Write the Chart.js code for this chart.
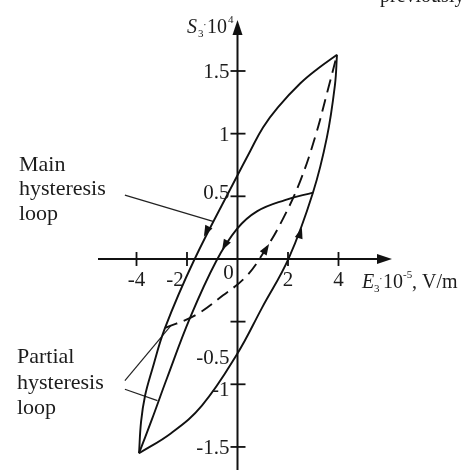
<!DOCTYPE html>
<html>
<head>
<meta charset="utf-8">
<script src="https://cdn.jsdelivr.net/npm/chart.js@4/dist/chart.umd.min.js"></script>
<style>
  body { margin: 0; background: #fff; }
  #wrap { width: 468px; height: 470px; }
</style>
</head>
<body>
<div id="wrap"><canvas id="loopChart" width="468" height="470"></canvas></div>
<script>
// field E3 (x 10^5 V/m) and strain S3 (x 10^-4) along each branch
var mainDownE = [3.94, 3.19, 2.48, 1.60, 1.01, 0.50, -0.02, -1.72, -2.87, -3.39, -3.66, -3.82, -3.90];
var mainDownS = [1.63, 1.52, 1.40, 1.21, 1.05, 0.86, 0.66, -0.01, -0.55, -0.89, -1.09, -1.30, -1.55];

var mainUpE = [-3.90, -2.63, -1.41, -0.02, 0.97, 2.04, 2.99, 3.54, 3.86, 3.94];
var mainUpS = [-1.55, -1.39, -1.17, -0.76, -0.39, 0.01, 0.53, 0.97, 1.39, 1.63];

var partialDownE = [2.99, 1.88, 0.77, -0.02, -0.85, -1.88, -2.79, -3.39, -3.90];
var partialDownS = [0.53, 0.47, 0.38, 0.24, -0.02, -0.47, -0.95, -1.28, -1.55];

var minorUpE = [-2.87, -1.68, -0.57, 0.34, 1.09, 1.80, 2.48, 3.07, 3.58, 3.94];
var minorUpS = [-0.55, -0.45, -0.29, -0.14, 0.07, 0.32, 0.62, 0.97, 1.35, 1.63];

// direction arrows: [tipE, tipS, tailE, tailS]
var arrowMarks = [
    [-1.33, 0.18, -1.13, 0.26],
    [-0.61, 0.07, -0.42, 0.14],
    [2.55, 0.25, 2.40, 0.15],
    [1.25, 0.12, 0.97, 0.03]
];

// leader lines from the captions: [fromE, fromS, toE, toS]
var leaderLines = [
    [-4.46, 0.51, -0.97, 0.30],
    [-4.46, -0.97, -2.63, -0.53],
    [-4.46, -1.04, -3.17, -1.13]
];

var eTicks = [-4, -2, 2, 4];
var eTickLabels = ['-4', '-2', '2', '4'];
var sTicks = [1.5, 1, 0.5, -0.5, -1, -1.5];
var sTickLabels = ['1.5', '1', '0.5', '-0.5', '-1', '-1.5'];

function toPoints(xs, ys) {
    return xs.map(function (x, i) { return { x: x, y: ys[i] }; });
}

var curveStyle = {
    showLine: true,
    borderColor: '#111',
    borderWidth: 1.9,
    pointRadius: 0,
    tension: 0.4,
    fill: false
};

var datasets = [
    Object.assign({ label: 'main down', data: toPoints(mainDownE, mainDownS) }, curveStyle),
    Object.assign({ label: 'main up', data: toPoints(mainUpE, mainUpS) }, curveStyle),
    Object.assign({ label: 'partial down', data: toPoints(partialDownE, partialDownS) }, curveStyle),
    Object.assign({ label: 'minor up', data: toPoints(minorUpE, minorUpS), borderDash: [13, 7] }, curveStyle)
];

leaderLines.forEach(function (l, i) {
    datasets.push({
        label: 'leader ' + i,
        data: [{ x: l[0], y: l[1] }, { x: l[2], y: l[3] }],
        showLine: true,
        borderColor: '#222',
        borderWidth: 1.2,
        pointRadius: 0,
        tension: 0
    });
});

var serif = '"Liberation Serif", "DejaVu Serif", serif';

// axes through the origin, tick marks, arrows and captions
var crossAxes = {
    id: 'crossAxes',
    afterDatasetsDraw: function (chart) {
        var ctx = chart.ctx;
        var xs = chart.scales.x, ys = chart.scales.y;
        var x0 = xs.getPixelForValue(0);
        var y0 = ys.getPixelForValue(0);

        ctx.save();
        ctx.strokeStyle = '#111';
        ctx.fillStyle = '#111';
        ctx.lineWidth = 2;

        // vertical axis
        ctx.beginPath();
        ctx.moveTo(x0, 470);
        ctx.lineTo(x0, 32);
        ctx.stroke();
        ctx.beginPath();
        ctx.moveTo(x0, 20);
        ctx.lineTo(x0 - 5, 35);
        ctx.lineTo(x0 + 5, 35);
        ctx.closePath();
        ctx.fill();

        // horizontal axis
        ctx.beginPath();
        ctx.moveTo(98, y0);
        ctx.lineTo(380, y0);
        ctx.stroke();
        ctx.beginPath();
        ctx.moveTo(392, y0);
        ctx.lineTo(377, y0 - 5);
        ctx.lineTo(377, y0 + 5);
        ctx.closePath();
        ctx.fill();

        // tick marks
        ctx.lineWidth = 1.8;
        sTicks.forEach(function (v) {
            var py = ys.getPixelForValue(v);
            ctx.beginPath();
            ctx.moveTo(x0 - 7, py);
            ctx.lineTo(x0 + 8, py);
            ctx.stroke();
        });
        eTicks.forEach(function (v) {
            var px = xs.getPixelForValue(v);
            ctx.beginPath();
            ctx.moveTo(px, y0 - 7);
            ctx.lineTo(px, y0 + 7);
            ctx.stroke();
        });

        // direction arrows
        arrowMarks.forEach(function (a) {
            var tx = xs.getPixelForValue(a[0]), ty = ys.getPixelForValue(a[1]);
            var bx = xs.getPixelForValue(a[2]), by = ys.getPixelForValue(a[3]);
            var ang = Math.atan2(ty - by, tx - bx);
            var len = 11, half = 4;
            var cx = tx - len * Math.cos(ang), cy = ty - len * Math.sin(ang);
            ctx.beginPath();
            ctx.moveTo(tx, ty);
            ctx.lineTo(cx + half * Math.sin(ang), cy - half * Math.cos(ang));
            ctx.lineTo(cx - half * Math.sin(ang), cy + half * Math.cos(ang));
            ctx.closePath();
            ctx.fill();
        });

        // tick labels
        ctx.fillStyle = '#1c1c1c';
        ctx.font = '21px ' + serif;
        ctx.textAlign = 'right';
        ctx.textBaseline = 'alphabetic';
        sTicks.forEach(function (v, i) {
            var py = ys.getPixelForValue(v) + 7;
            if (sTickLabels[i] === '-0.5') py += 35;
            if (sTickLabels[i] === '-1') py += 5;
            if (sTickLabels[i] === '0.5') py -= 4;
            ctx.fillText(sTickLabels[i], x0 - 8, py);
        });
        ctx.textAlign = 'center';
        eTicks.forEach(function (v, i) {
            var px = xs.getPixelForValue(v);
            if (eTickLabels[i] === '-2') px -= 12;
            ctx.fillText(eTickLabels[i], px, y0 + 27);
        });
        ctx.fillText('0', x0 - 9, y0 + 20);

        // axis titles
        ctx.textAlign = 'left';
        ctx.font = 'italic 20px ' + serif;
        ctx.fillText('S', 187, 33);
        ctx.font = '11px ' + serif;
        ctx.fillText('3', 198, 37);
        ctx.fillText('·', 203, 28);
        ctx.font = '20px ' + serif;
        ctx.fillText('10', 207, 33);
        ctx.font = '11px ' + serif;
        ctx.fillText('4', 228, 23);

        ctx.font = 'italic 20px ' + serif;
        ctx.fillText('E', 362, 288);
        ctx.font = '11px ' + serif;
        ctx.fillText('3', 374, 292);
        ctx.fillText('·', 379, 282);
        ctx.font = '20px ' + serif;
        ctx.fillText('10', 383, 288);
        ctx.font = '11px ' + serif;
        ctx.fillText('-5', 403, 278);
        ctx.font = '20px ' + serif;
        ctx.fillText(', V/m', 412, 288);

        // captions
        ctx.font = '22px ' + serif;
        ctx.fillText('Main', 19, 171);
        ctx.fillText('hysteresis', 19, 195);
        ctx.fillText('loop', 19, 220);
        ctx.fillText('Partial', 17, 363);
        ctx.fillText('hysteresis', 17, 389);
        ctx.fillText('loop', 17, 414);

        // tail of the preceding text line
        ctx.font = '20px ' + serif;
        ctx.fillText('previously', 380, 2);
        ctx.restore();
    }
};

var ctx = document.getElementById('loopChart').getContext('2d');
var loopChart = new Chart(ctx, {
    type: 'scatter',
    data: { datasets: datasets },
    options: {
        responsive: false,
        animation: false,
        devicePixelRatio: 1,
        layout: { padding: { left: 98, right: 78, top: 22, bottom: 0 } },
        plugins: {
            legend: { display: false },
            tooltip: { enabled: false }
        },
        scales: {
            x: { type: 'linear', min: -5.525, max: 6.04, display: false },
            y: { type: 'linear', min: -1.684, max: 1.891, display: false }
        }
    },
    plugins: [crossAxes]
});
</script>
</body>
</html>
